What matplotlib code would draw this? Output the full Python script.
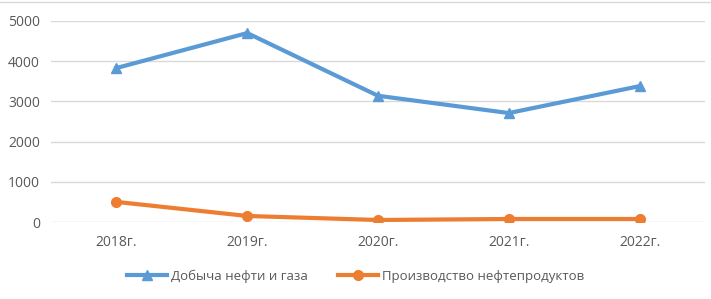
import matplotlib.pyplot as plt
from matplotlib.lines import Line2D

years = ["2018г.", "2019г.", "2020г.", "2021г.", "2022г."]
oil_gas = [3830, 4700, 3140, 2710, 3380]
refining = [500, 150, 50, 75, 75]

plt.rcParams['font.family'] = ['Open Sans', 'DejaVu Sans']

fig = plt.figure(figsize=(7.11, 2.99), dpi=100)
ax = fig.add_axes([51 / 711, 1 - 222 / 299, 654 / 711, 201 / 299])

x = range(len(years))
ax.plot(x, oil_gas, color='#5b9bd5', lw=3, marker='^', ms=7, label='Добыча нефти и газа')
ax.plot(x, refining, color='#ed7d31', lw=3, marker='o', ms=7, label='Производство нефтепродуктов')

ax.set_xlim(-0.5, len(years) - 0.5)
ax.set_ylim(0, 5000)
ax.set_yticks(range(0, 5001, 1000))
ax.set_xticks(list(x))
ax.set_xticklabels(years)
ax.grid(axis='y', color='#d9d9d9', lw=1)
ax.set_axisbelow(True)
for s in ax.spines.values():
    s.set_visible(False)
ax.tick_params(length=0, labelsize=10, colors='#595959', pad=8)
ax.tick_params(axis='x', pad=9)

fig.legend(loc='center', bbox_to_anchor=(0.5, 1 - 276 / 299), ncol=2, frameon=False,
           fontsize=9.5, labelcolor='#595959', handlelength=3, columnspacing=2.3, handletextpad=0.3)

fig.add_artist(Line2D([0, 1], [1 - 2 / 299, 1 - 2 / 299], color='#d9d9d9', lw=1))

fig.savefig('out.png', dpi=100)
